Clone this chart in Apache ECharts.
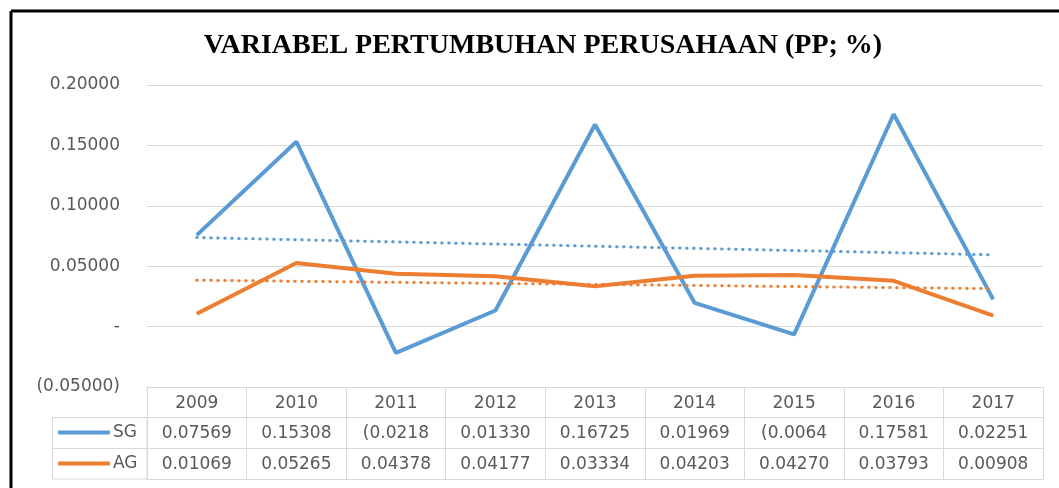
<!DOCTYPE html>
<html style="height: 100%">
<head>
  <meta charset="utf-8">
  <title>Variabel Pertumbuhan Perusahaan</title>
  <script src="https://cdn.jsdelivr.net/npm/echarts@6/dist/echarts.min.js"></script>
</head>
<body style="margin: 0; height: 100%; background: #fff">
  <div id="main" style="width: 1059px; height: 488px"></div>

  <script>
    // data
    const years = ['2009', '2010', '2011', '2012', '2013', '2014', '2015', '2016', '2017'];
    const sg = [0.07569, 0.15308, -0.0218, 0.01330, 0.16725, 0.01969, -0.0064, 0.17581, 0.02251];
    const ag = [0.01069, 0.05265, 0.04378, 0.04177, 0.03334, 0.04203, 0.04270, 0.03793, 0.00908];
    // dotted trend lines: start / end values
    const sgTrend = [0.0737, 0.0594];
    const agTrend = [0.0384, 0.0314];
    const tableRows = ['year', 'SG', 'AG'];

    const FONT = '"DejaVu Sans", sans-serif';
    const chart = echarts.init(document.getElementById('main'));

    function trendData(ends) {
      return years.map((y, i) => i === 0 ? ends[0] : (i === years.length - 1 ? ends[1] : null));
    }

    function cellText(v) {
      if (v < 0) return '(' + Math.abs(v).toFixed(4);
      return v.toFixed(5);
    }

    // cells of the data table under the plot
    const cells = [];
    years.forEach((y, i) => {
      cells.push([i, 0, y]);
      cells.push([i, 1, cellText(sg[i])]);
      cells.push([i, 2, cellText(ag[i])]);
    });

    chart.setOption({
      animation: false,
      title: {
        text: 'VARIABEL PERTUMBUHAN PERUSAHAAN (PP; %)',
        left: 538,
        textAlign: 'center',
        top: 27,
        textStyle: {
          fontFamily: '"Liberation Serif", serif',
          fontWeight: 'bold',
          fontSize: 28,
          color: '#000'
        }
      },
      legend: {
        data: [
          { name: 'SG', icon: 'roundRect' },
          { name: 'AG', icon: 'roundRect' }
        ],
        orient: 'vertical',
        left: 58,
        top: 424,
        padding: 0,
        itemWidth: 52,
        itemHeight: 4,
        itemGap: 14,
        textStyle: { fontFamily: FONT, fontSize: 17, lineHeight: 17, color: '#595959', padding: [0, 0, 0, -2] }
      },
      grid: [
        { left: 147, right: 16, top: 85, bottom: 101 },
        { left: 147, right: 16, top: 387, height: 92 }
      ],
      xAxis: [
        {
          type: 'category',
          data: years,
          boundaryGap: true,
          axisLine: { show: false },
          axisTick: { show: false },
          axisLabel: { show: false }
        },
        {
          type: 'category',
          gridIndex: 1,
          data: years,
          boundaryGap: true,
          axisLine: { show: true, lineStyle: { color: '#d9d9d9' } },
          axisTick: { show: false },
          axisLabel: { show: false },
          splitLine: { show: true, lineStyle: { color: '#d9d9d9' } }
        }
      ],
      yAxis: [
        {
          type: 'value',
          min: -0.05,
          max: 0.2,
          interval: 0.05,
          axisLine: { show: false },
          axisTick: { show: false },
          splitLine: { lineStyle: { color: '#d9d9d9', width: 1 } },
          axisLabel: {
            margin: 27,
            fontFamily: FONT,
            fontSize: 17,
            color: '#595959',
            formatter: v => {
              if (Math.abs(v) < 1e-9) return '-';
              if (v < 0) return '(' + Math.abs(v).toFixed(5) + ')';
              return v.toFixed(5);
            }
          }
        },
        {
          type: 'category',
          gridIndex: 1,
          data: tableRows,
          inverse: true,
          boundaryGap: true,
          axisLine: { show: true, lineStyle: { color: '#d9d9d9' } },
          axisTick: { show: false },
          axisLabel: { show: false },
          splitLine: { show: true, lineStyle: { color: '#d9d9d9' } }
        }
      ],
      graphic: [
        // legend column of the table
        { type: 'rect', shape: { x: 52.5, y: 417.5, width: 94.5, height: 61.5 }, style: { fill: 'none', stroke: '#d9d9d9', lineWidth: 1 } },
        { type: 'line', shape: { x1: 52.5, y1: 448.5, x2: 147, y2: 448.5 }, style: { stroke: '#d9d9d9', lineWidth: 1 } },
        // black frame
        { type: 'line', shape: { x1: 11, y1: 11, x2: 1059, y2: 11 }, style: { stroke: '#000', lineWidth: 3 } },
        { type: 'line', shape: { x1: 11, y1: 11, x2: 11, y2: 488 }, style: { stroke: '#000', lineWidth: 3 } }
      ],
      series: [
        {
          name: 'SG',
          type: 'line',
          data: sg,
          symbol: 'none',
          lineStyle: { color: '#5b9bd5', width: 4 },
          itemStyle: { color: '#5b9bd5' }
        },
        {
          name: 'AG',
          type: 'line',
          data: ag,
          symbol: 'none',
          lineStyle: { color: '#ed7d31', width: 4 },
          itemStyle: { color: '#ed7d31' }
        },
        {
          name: 'SG trend',
          type: 'line',
          data: trendData(sgTrend),
          connectNulls: true,
          symbol: 'none',
          lineStyle: { color: '#5b9bd5', width: 3, type: [0.5, 6.5], cap: 'round' }
        },
        {
          name: 'AG trend',
          type: 'line',
          data: trendData(agTrend),
          connectNulls: true,
          symbol: 'none',
          lineStyle: { color: '#ed7d31', width: 3, type: [0.5, 6.5], cap: 'round' }
        },
        {
          type: 'custom',
          xAxisIndex: 1,
          yAxisIndex: 1,
          data: cells,
          silent: true,
          renderItem: (params, api) => {
            const p = api.coord([api.value(0), api.value(1)]);
            return {
              type: 'text',
              x: p[0],
              y: p[1] + 1,
              style: {
                text: cells[params.dataIndex][2],
                align: 'center',
                verticalAlign: 'middle',
                fill: '#595959',
                font: '17px ' + FONT
              }
            };
          }
        }
      ]
    });
  </script>
</body>
</html>
